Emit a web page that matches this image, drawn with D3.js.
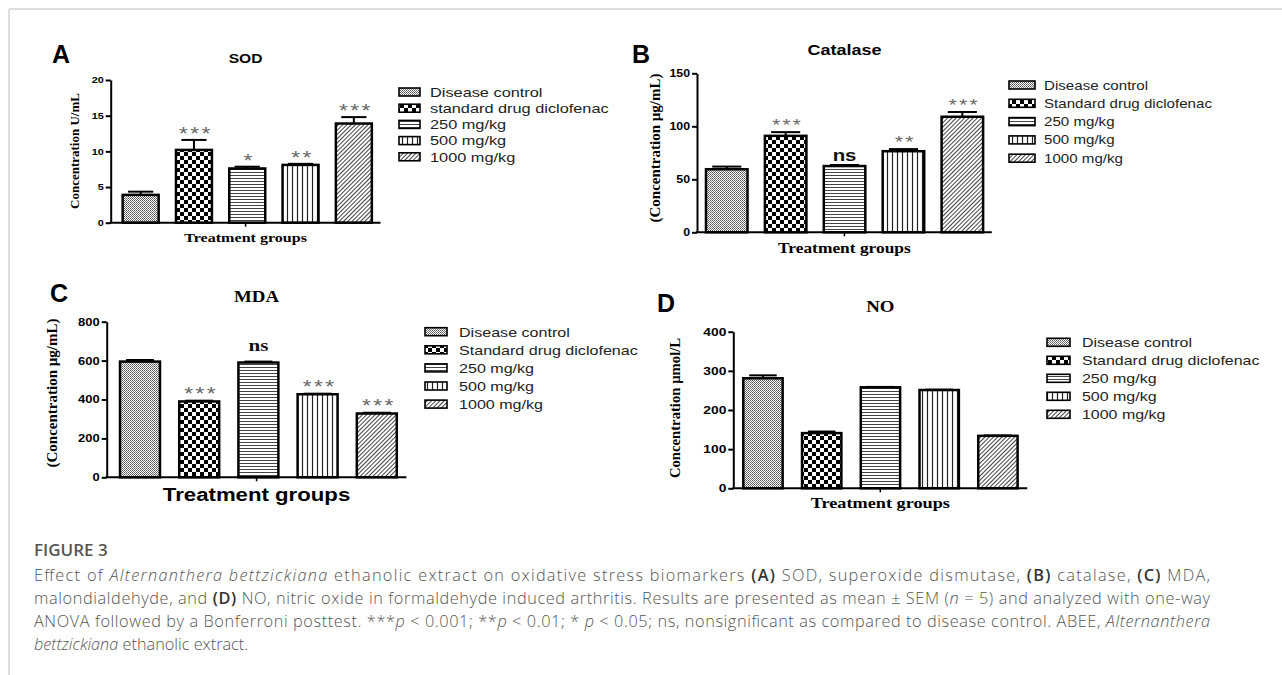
<!DOCTYPE html>
<html>
<head>
<meta charset="utf-8">
<script src="https://cdn.jsdelivr.net/npm/d3@7"></script>
<style>
body { margin: 0; background: #fff; }
</style>
</head>
<body>
<svg id="fig" width="1282" height="675"></svg>
<script>
// groups (panel A legend uses lower case "standard")
var groupsA = ["Disease control", "standard drug diclofenac", "250 mg/kg", "500 mg/kg", "1000 mg/kg"]
var groups = ["Disease control", "Standard drug diclofenac", "250 mg/kg", "500 mg/kg", "1000 mg/kg"]

// values (mean, SEM)
var sodMean = [3.9, 10.2, 7.6, 8.1, 13.9]
var sodSem = [0.45, 1.4, 0.25, 0.15, 0.9]
var sodSig = ["", "***", "*", "**", "***"]
var sodTicks = [0, 5, 10, 15, 20]

var catMean = [59.5, 91, 62.5, 76.5, 109]
var catSem = [2.5, 3.5, 1.0, 2.0, 4.5]
var catSig = ["", "***", "ns", "**", "***"]
var catTicks = [0, 50, 100, 150]

var mdaMean = [595, 390, 590, 427, 328]
var mdaSem = [8, 4, 5, 3, 4]
var mdaSig = ["", "***", "ns", "***", "***"]
var mdaTicks = [0, 200, 400, 600, 800]

var noMean = [281, 141, 258, 251, 134]
var noSem = [7.5, 4, 1, 1, 1]
var noSig = ["", "", "", "", ""]
var noTicks = [0, 100, 200, 300, 400]

const SANS = "'Liberation Sans', Arial, sans-serif"
const SERIF = "'Liberation Serif', 'Times New Roman', serif"
const SX = 1.2   // the scanned figure is stretched sideways a bit

var svg = d3.select("#fig")
var defs = svg.append("defs")

// fill patterns, one per group
function pattern(id, w, h) {
	var p = defs.append("pattern").attr("id", id)
		.attr("patternUnits", "userSpaceOnUse")
		.attr("width", w).attr("height", h)
	p.append("rect").attr("width", w).attr("height", h).attr("fill", "#fff")
	return p
}
var p0 = pattern("pat0", 2, 2)
p0.append("rect").attr("width", 1).attr("height", 1).attr("fill", "#555")
p0.append("rect").attr("x", 1).attr("y", 1).attr("width", 1).attr("height", 1).attr("fill", "#777")
var p1 = pattern("pat1", 8, 8)
p1.append("rect").attr("width", 4).attr("height", 4).attr("fill", "#000")
p1.append("rect").attr("x", 4).attr("y", 4).attr("width", 4).attr("height", 4).attr("fill", "#000")
var p2 = pattern("pat2", 4, 3)
p2.append("line").attr("x1", 0).attr("x2", 4).attr("y1", 1.5).attr("y2", 1.5).attr("stroke", "#444").attr("stroke-width", 1)
var p3 = pattern("pat3", 5, 4)
p3.append("line").attr("x1", 2.5).attr("x2", 2.5).attr("y1", 0).attr("y2", 4).attr("stroke", "#222").attr("stroke-width", 1.2)
var p4 = pattern("pat4", 3, 3).attr("patternTransform", "rotate(45)")
p4.append("line").attr("x1", 0.5).attr("x2", 0.5).attr("y1", 0).attr("y2", 3).attr("stroke", "#444").attr("stroke-width", 1)

// page frame
svg.append("line").attr("x1", 9).attr("x2", 1282).attr("y1", 9).attr("y2", 9).attr("stroke", "#d2d2d2").attr("stroke-width", 1.5)
svg.append("line").attr("x1", 9).attr("x2", 9).attr("y1", 9).attr("y2", 675).attr("stroke", "#d2d2d2").attr("stroke-width", 1.5)

function wideText(g, x, y, str, size, family, weight) {
	return g.append("text")
		.attr("transform", "translate(" + x + "," + y + ") scale(" + SX + ",1)")
		.attr("font-family", family)
		.attr("font-weight", weight || "normal")
		.attr("font-size", size)
		.text(str)
}

var panels = [
	{ label: "A", labelX: 52, labelY: 63, title: "SOD", titleFont: SANS, titleSize: 13, titleY: 63,
		mean: sodMean, sem: sodSem, sig: sodSig, ticks: sodTicks, names: groupsA,
		yDomain: [0, 20], yRange: [222.7, 80], band: [114, 380.5], pad: 0.325, axisX: 110.7,
		tickSize: 9, ylabel: "Concentration U/mL", ylX: 74, ylY: 151, ylSize: 13,
		xlFont: SERIF, xlSize: 13.4, xlY: 241.7, starSize: 19, starGap: 11,
		leg: { x: 399, y: 92, dy: 16.2, w: 21, tx: 430, size: 13.6 } },
	{ label: "B", labelX: 632, labelY: 63, title: "Catalase", titleFont: SANS, titleSize: 15, titleY: 55,
		mean: catMean, sem: catSem, sig: catSig, ticks: catTicks, names: groups,
		yDomain: [0, 150], yRange: [232.3, 73.3], band: [697.3, 991.8], pad: 0.295, axisX: 697,
		tickSize: 10.3, ylabel: "(Concentration µg/mL)", ylX: 655, ylY: 148, ylSize: 15,
		xlFont: SERIF, xlSize: 14.5, xlY: 253, starSize: 17, starGap: 11,
		nsFont: SANS, nsSize: 17, nsGap: 3.5,
		leg: { x: 1009, y: 85, dy: 18.3, w: 26, tx: 1044, size: 12.6 } },
	{ label: "C", labelX: 50, labelY: 302, title: "MDA", titleFont: SERIF, titleSize: 15.7, titleY: 301.7,
		mean: mdaMean, sem: mdaSem, sig: mdaSig, ticks: mdaTicks, names: groups,
		yDomain: [0, 800], yRange: [477.3, 321.7], band: [110.4, 406.4], pad: 0.325, axisX: 106.7,
		tickSize: 10.8, ylabel: "(Concentration µg/mL)", ylX: 51.7, ylY: 393, ylSize: 15,
		xlFont: SANS, xlSize: 18.5, xlY: 501, starSize: 19, starGap: 12,
		nsFont: SERIF, nsSize: 17.6, nsGap: 11,
		leg: { x: 425, y: 331.7, dy: 18.1, w: 22, tx: 459, size: 13.4 } },
	{ label: "D", labelX: 657, labelY: 312, title: "NO", titleFont: SERIF, titleSize: 15.7, titleY: 311.7,
		mean: noMean, sem: noSem, sig: noSig, ticks: noTicks, names: groups,
		yDomain: [0, 400], yRange: [488.3, 331.7], band: [733.6, 1027.3], pad: 0.33, axisX: 733.3,
		tickSize: 11.5, ylabel: "Concentration µmol/L", ylX: 675, ylY: 408, ylSize: 14.7,
		xlFont: SERIF, xlSize: 15.2, xlY: 508, starSize: 19, starGap: 11,
		leg: { x: 1047, y: 342.3, dy: 18, w: 23, tx: 1082, size: 13.3 } }
]

function drawPanel(p) {
	var g = svg.append("g")
	var x = d3.scaleBand().domain(p.names).range(p.band)
		.paddingInner(p.pad).paddingOuter(p.pad / 2)
	var y = d3.scaleLinear().domain(p.yDomain).range(p.yRange)
	var rows = p.names.map((n, i) => ({ name: n, i: i, mean: p.mean[i], sem: p.sem[i], sig: p.sig[i] }))
	var cx = d => x(d.name) + x.bandwidth() / 2
	var capW = x.bandwidth() * 0.7

	// error bars (upper whisker only)
	g.selectAll("line.err").data(rows).join("line")
		.attr("x1", cx).attr("x2", cx)
		.attr("y1", d => y(d.mean)).attr("y2", d => y(d.mean + d.sem))
		.attr("stroke", "#000").attr("stroke-width", 2)
	g.selectAll("line.cap").data(rows).join("line")
		.attr("x1", d => cx(d) - capW / 2).attr("x2", d => cx(d) + capW / 2)
		.attr("y1", d => y(d.mean + d.sem)).attr("y2", d => y(d.mean + d.sem))
		.attr("stroke", "#000").attr("stroke-width", 2)

	g.selectAll("rect.bar").data(rows).join("rect")
		.attr("x", d => x(d.name))
		.attr("y", d => y(d.mean))
		.attr("width", x.bandwidth())
		.attr("height", d => y(0) - y(d.mean))
		.attr("fill", d => "url(#pat" + d.i + ")")
		.attr("stroke", "#000").attr("stroke-width", 2.5)

	// y axis
	var ax = g.append("g").attr("transform", "translate(" + p.axisX + ",0)")
		.call(d3.axisLeft(y).tickValues(p.ticks).tickSize(5).tickSizeOuter(0).tickPadding(2))
	ax.select(".domain").attr("stroke-width", 2)
	ax.selectAll(".tick line").attr("stroke-width", 2)
	ax.selectAll(".tick text")
		.attr("font-family", SANS).attr("font-weight", "bold")
		.attr("font-size", p.tickSize).attr("fill", "#000")
		.attr("x", -7 / SX)
		.attr("transform", "scale(" + SX + ",1)")

	// x axis line with its single centre tick
	var x0 = p.axisX, x1 = p.band[1], mid = (x0 + x1) / 2
	g.append("line").attr("x1", x0 - 1).attr("x2", x1).attr("y1", y(0)).attr("y2", y(0))
		.attr("stroke", "#000").attr("stroke-width", 2)
	g.append("line").attr("x1", mid).attr("x2", mid).attr("y1", y(0)).attr("y2", y(0) + 4)
		.attr("stroke", "#000").attr("stroke-width", 1.5)

	// significance marks
	rows.filter(d => d.sig && d.sig != "ns").forEach(d => {
		wideText(g, cx(d) + 2, y(d.mean + d.sem) - p.starGap + p.starSize * 0.58, d.sig, p.starSize, SANS)
			.attr("text-anchor", "middle").attr("fill", "#666").attr("letter-spacing", 2)
	})
	rows.filter(d => d.sig == "ns").forEach(d => {
		wideText(g, cx(d), y(d.mean + d.sem) - p.nsGap, "ns", p.nsSize, p.nsFont, "bold")
			.attr("text-anchor", "middle").attr("fill", "#111")
	})

	// texts
	g.append("text").attr("x", p.labelX).attr("y", p.labelY)
		.attr("font-family", SANS).attr("font-weight", "bold").attr("font-size", 25)
		.text(p.label)
	wideText(g, mid, p.titleY, p.title, p.titleSize, p.titleFont, "bold").attr("text-anchor", "middle")
	wideText(g, mid, p.xlY, "Treatment groups", p.xlSize, p.xlFont, "bold").attr("text-anchor", "middle")
	g.append("text")
		.attr("transform", "translate(" + p.ylX + "," + p.ylY + ") rotate(-90)")
		.attr("text-anchor", "middle").attr("dy", "0.35em")
		.attr("font-family", SERIF).attr("font-weight", "bold").attr("font-size", p.ylSize)
		.text(p.ylabel)

	// legend
	var L = p.leg
	var lg = g.append("g")
	lg.selectAll("rect").data(rows).join("rect")
		.attr("x", L.x).attr("y", d => L.y + d.i * L.dy - 4)
		.attr("width", L.w).attr("height", 8)
		.attr("fill", d => "url(#pat" + d.i + ")")
		.attr("stroke", "#000").attr("stroke-width", 1.6)
	rows.forEach(d => {
		wideText(lg, L.tx, L.y + d.i * L.dy + L.size * 0.36, d.name, L.size, SANS).attr("fill", "#222")
	})
}

panels.forEach(drawPanel)

// caption
var captionTitle = "FIGURE 3"
var captionLines = [
	[["Effect of ", ""], ["Alternanthera bettzickiana", "i"], [" ethanolic extract on oxidative stress biomarkers ", ""], ["(A)", "b"], [" SOD, superoxide dismutase, ", ""], ["(B)", "b"], [" catalase, ", ""], ["(C)", "b"], [" MDA,", ""]],
	[["malondialdehyde, and ", ""], ["(D)", "b"], [" NO, nitric oxide in formaldehyde induced arthritis. Results are presented as mean ± SEM (", ""], ["n", "i"], [" = 5) and analyzed with one-way", ""]],
	[["ANOVA followed by a Bonferroni posttest. ***", ""], ["p", "i"], [" < 0.001; **", ""], ["p", "i"], [" < 0.01; * ", ""], ["p", "i"], [" < 0.05; ns, nonsignificant as compared to disease control. ABEE, ", ""], ["Alternanthera", "i"]],
	[["bettzickiana", "i"], [" ethanolic extract.", ""]]
]
var CAP_FONT = "'Open Sans', 'Noto Sans', sans-serif"
svg.append("text").attr("x", 34).attr("y", 556)
	.attr("font-family", CAP_FONT).attr("font-weight", 600).attr("font-size", 17)
	.attr("fill", "#555").text(captionTitle)
captionLines.forEach((line, li) => {
	var t = svg.append("text").attr("x", 34).attr("y", 581 + li * 23)
		.attr("font-family", CAP_FONT).attr("font-weight", 300).attr("font-size", 16.3)
		.attr("fill", "#555")
	if (li < 3) t.attr("textLength", 1176).attr("lengthAdjust", "spacing")
	line.forEach(seg => {
		t.append("tspan")
			.attr("font-style", seg[1] == "i" ? "italic" : null)
			.attr("font-weight", seg[1] == "b" ? 600 : null)
			.attr("fill", seg[1] == "b" ? "#333" : null)
			.text(seg[0])
	})
})
</script>
</body>
</html>
